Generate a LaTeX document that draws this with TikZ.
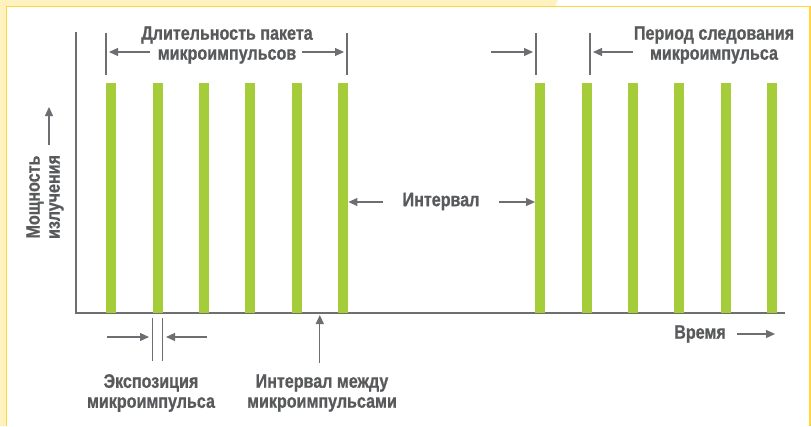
\documentclass[tikz,border=0pt]{standalone}
\usepackage{fontspec}
\setmainfont{Liberation Sans}[FakeStretch=0.825, BoldFeatures={FakeBold=0.8}]
\usetikzlibrary{arrows.meta}
\definecolor{pale}{HTML}{FFF2BF}
\definecolor{frame}{HTML}{FFD43F}
\definecolor{pulse}{HTML}{A5CD39}
\definecolor{axisgray}{HTML}{6D6E71}
\definecolor{textgray}{HTML}{58595B}
\begin{document}
\begin{tikzpicture}[x=1pt,y=-1pt,
  lbl/.style={text=textgray,font=\bfseries\fontsize{19.5}{20}\selectfont,align=center,inner sep=0pt},
  pulsebar/.style={fill=pulse,draw=none,minimum width=10pt,minimum height=230pt,inner sep=0pt,anchor=north west},
  guide/.style={draw=axisgray,line width=1.2pt},
  arr/.style={guide,-{Triangle[length=9pt,width=8pt]}}]
\useasboundingbox (0,0) rectangle (811,426);
% page frame
\fill[pale] (0,0) -- (558,0) -- (555,6) -- (6,6) -- (6,426) -- (0,426) -- cycle;
\draw[frame,line width=1.6pt] (6.6,426) -- (6.6,6.6) -- (810.2,6.6) -- (810.2,426);

% axes
\coordinate (ytop) at (76,32);
\coordinate (origin) at (76,313);
\coordinate (xend) at (785,313);
\draw[guide] (ytop) -- (origin) -- (xend);

% pulses: first and second packet
\foreach \i in {0,...,5} {
  \node[pulsebar] (a\i) at ({106+46.4*\i},83) {};
  \node[pulsebar] (b\i) at ({535+46.4*\i},83) {};
}

% packet duration
\coordinate (pl1) at (106,33); \coordinate (pl2) at (106,75);
\coordinate (pr1) at (347,33); \coordinate (pr2) at (347,75);
\draw[guide] (pl1) -- (pl2);
\draw[guide] (pr1) -- (pr2);
\node[lbl] (packet) at (227,45) {Длительность пакета\\микроимпульсов};
\coordinate (pa1) at (150,52); \coordinate (pa1e) at (109,52);
\coordinate (pa2) at (302,52); \coordinate (pa2e) at (344,52);
\draw[arr] (pa1) -- (pa1e);
\draw[arr] (pa2) -- (pa2e);

% repetition period
\coordinate (rl1) at (536,33); \coordinate (rl2) at (536,75);
\coordinate (rr1) at (590,33); \coordinate (rr2) at (590,75);
\draw[guide] (rl1) -- (rl2);
\draw[guide] (rr1) -- (rr2);
\coordinate (ra1) at (491,52); \coordinate (ra1e) at (533,52);
\coordinate (ra2) at (633,52); \coordinate (ra2e) at (593,52);
\draw[arr] (ra1) -- (ra1e);
\draw[arr] (ra2) -- (ra2e);
\node[lbl] (period) at (714,45) {Период следования\\микроимпульса};

% gap between packets
\node[lbl] (gap) at (441,201.5) {Интервал};
\coordinate (ga1) at (383,202); \coordinate (ga2) at (499,202);
\draw[arr] (ga1) -- (ga1 -| a5.east);
\draw[arr] (ga2) -- (ga2 -| b0.west);

% vertical axis label
\node[lbl,rotate=90] (power) at (45,197) {Мощность\\излучения};
\coordinate (ya1) at (49,145); \coordinate (ya2) at (49,107);
\draw[arr] (ya1) -- (ya2);

% time axis label
\node[lbl] (time) at (700,334) {Время};
\coordinate (ta1) at (737,334); \coordinate (ta2) at (775,334);
\draw[arr] (ta1) -- (ta2);

% pulse exposure
\coordinate (el1) at (152.4,318); \coordinate (el2) at (152.4,361);
\coordinate (er1) at (162.4,318); \coordinate (er2) at (162.4,361);
\draw[guide] (el1) -- (el2);
\draw[guide] (er1) -- (er2);
\coordinate (ea1) at (107,337); \coordinate (ea1e) at (149,337);
\coordinate (ea2) at (207,337); \coordinate (ea2e) at (166,337);
\draw[arr] (ea1) -- (ea1e);
\draw[arr] (ea2) -- (ea2e);
\node[lbl] (expo) at (151,393) {Экспозиция\\микроимпульса};

% interval between pulses
\coordinate (ib1) at (319.8,363); \coordinate (ib2) at (319.8,315);
\draw[arr] (ib1) -- (ib2);
\node[lbl] (between) at (322,393) {Интервал между\\микроимпульсами};
\end{tikzpicture}
\end{document}
